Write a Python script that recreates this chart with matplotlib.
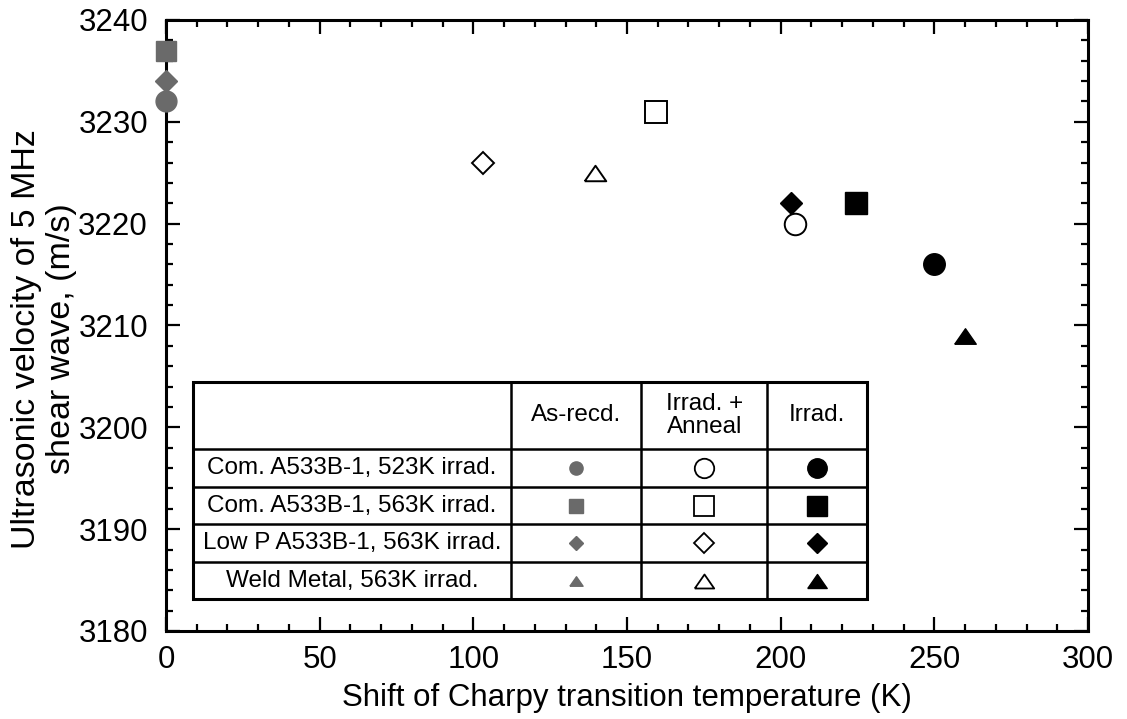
import numpy as np
import matplotlib
matplotlib.use("Agg")
from matplotlib import pyplot as plt
from matplotlib.ticker import MultipleLocator

plt.rcParams.update({"font.family": ["Liberation Sans", "DejaVu Sans"],
                     "font.size": 20})

# as-received (gray), irradiated + annealed (open), irradiated (filled)
materials = ['Com. A533B-1, 523K irrad.',
             'Com. A533B-1, 563K irrad.',
             'Low P A533B-1, 563K irrad.',
             'Weld Metal, 563K irrad.']
marks = ['o', 's', 'D', 'tri']

asrecd_x = [0, 0, 0]
asrecd_v = [3232, 3237, 3234]
anneal_x = [204.5, 159.5, 103, 139.6]
anneal_v = [3220, 3231, 3226, 3225]
irrad_x = [250, 224.5, 203.5, 260]
irrad_v = [3216, 3222, 3222, 3209]

tri = [(-1, -0.72), (1, -0.72), (0, 0.72), (-1, -0.72)]

def mk(m):
    return tri if m == 'tri' else m

def msize(m, base):
    if m == 'D':
        return base * 0.72
    return base

gray = '#6a6a6a'
tfs = 17.5

fig = plt.figure(figsize=(11.27, 7.19), dpi=100)
ax = fig.add_axes([0.1473, 0.1224, 0.8181, 0.8498])

for i in range(len(asrecd_x)):
    ax.plot(asrecd_x[i], asrecd_v[i], ls='none', marker=mk(marks[i]),
            ms=msize(marks[i], 15), color=gray, mec=gray, clip_on=False, zorder=5)
for i in range(len(anneal_x)):
    ax.plot(anneal_x[i], anneal_v[i], ls='none', marker=mk(marks[i]),
            ms=msize(marks[i], 15.5), mfc='white', mec='black', mew=1.4, zorder=4)
for i in range(len(irrad_x)):
    ax.plot(irrad_x[i], irrad_v[i], ls='none', marker=mk(marks[i]),
            ms=msize(marks[i], 15.5), color='black', zorder=4)

# legend table drawn in data coordinates
tx = [8.8, 112.3, 154.6, 195.6, 228.1]
ty = [3204.5, 3197.9, 3194.1, 3190.5, 3186.8, 3183.1]
ax.add_patch(plt.Rectangle((tx[0], ty[-1]), tx[-1] - tx[0], ty[0] - ty[-1],
                           fc='white', ec='black', lw=2.2, zorder=6))
for x in tx[1:-1]:
    ax.plot([x, x], [ty[-1], ty[0]], color='black', lw=1.8, zorder=7)
for y in ty[1:-1]:
    ax.plot([tx[0], tx[-1]], [y, y], color='black', lw=1.8, zorder=7)

hy = (ty[0] + ty[1]) / 2
ax.text((tx[1] + tx[2]) / 2, hy, 'As-recd.', ha='center', va='center', fontsize=tfs, zorder=8)
ax.text((tx[2] + tx[3]) / 2, hy, 'Irrad. +\nAnneal', ha='center', va='center', fontsize=tfs,
        linespacing=1.05, zorder=8)
ax.text((tx[3] + tx[4]) / 2, hy, 'Irrad.', ha='center', va='center', fontsize=tfs, zorder=8)
for i, name in enumerate(materials):
    cy = (ty[i + 1] + ty[i + 2]) / 2
    ax.text((tx[0] + tx[1]) / 2, cy, name, ha='center', va='center', fontsize=tfs, zorder=8)
    m = marks[i]
    ax.plot((tx[1] + tx[2]) / 2, cy, marker=mk(m), ms=msize(m, 9.5), color=gray, zorder=8)
    ax.plot((tx[2] + tx[3]) / 2, cy, marker=mk(m), ms=msize(m, 14), mfc='white',
            mec='black', mew=1.3, zorder=8)
    ax.plot((tx[3] + tx[4]) / 2, cy, marker=mk(m), ms=msize(m, 14), color='black', zorder=8)

ax.set_xlim(0, 300)
ax.set_ylim(3180, 3240)
ax.xaxis.set_major_locator(MultipleLocator(50))
ax.xaxis.set_minor_locator(MultipleLocator(10))
ax.yaxis.set_major_locator(MultipleLocator(10))
ax.yaxis.set_minor_locator(MultipleLocator(2))
ax.tick_params(which='both', direction='in', top=True, right=True, width=1.6, labelsize=22.5)
ax.tick_params(which='major', length=10)
ax.tick_params(which='minor', length=5)
ax.tick_params(axis='x', which='major', pad=10)
ax.tick_params(axis='y', which='major', pad=13)
for s in ax.spines.values():
    s.set_linewidth(2.2)

ax.set_xlabel('Shift of Charpy transition temperature (K)', fontsize=22.5, labelpad=6)
ax.set_ylabel('Ultrasonic velocity of 5 MHz\nshear wave, (m/s)', fontsize=24.5,
              linespacing=1.15)
ax.yaxis.set_label_coords(-0.097, 0.478)

fig.savefig('out.png', dpi=100)
